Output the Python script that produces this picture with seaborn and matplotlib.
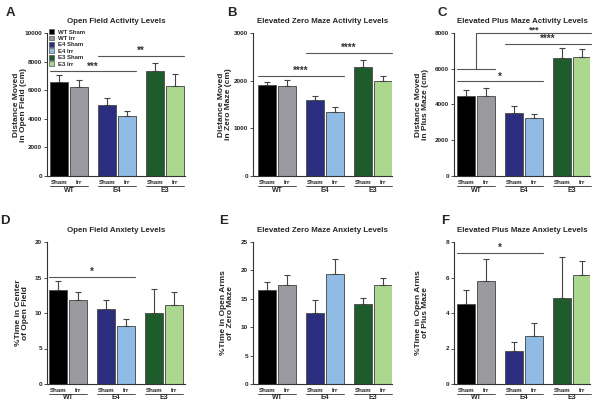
import matplotlib
matplotlib.use("Agg")
import matplotlib.pyplot as plt
from matplotlib.patches import Patch
import numpy as np
import pandas as pd
import seaborn as sns

# Groups and colours
groups = ["WT Sham", "WT Irr", "E4 Sham", "E4 Irr", "E3 Sham", "E3 Irr"]
conds = ["Sham", "Irr", "Sham", "Irr", "Sham", "Irr"]
genos = ["WT", "E4", "E3"]
colors = ["#000000", "#9b9b9f", "#2b2e7e", "#8fbbe5", "#1e5c2c", "#abd78f"]

# Means and SEM
of_activity = [6540, 6240, 4950, 4200, 7360, 6310]
of_activity_err = [540, 490, 520, 380, 540, 840]
zm_activity = [1906, 1885, 1600, 1340, 2280, 2000]
zm_activity_err = [70, 125, 70, 100, 160, 100]
pm_activity = [4450, 4470, 3530, 3230, 6600, 6650]
pm_activity_err = [340, 460, 360, 250, 560, 450]
of_anxiety = [13.2, 11.9, 10.5, 8.2, 10.0, 11.15]
of_anxiety_err = [1.27, 1.0, 1.4, 0.9, 3.35, 1.8]
zm_anxiety = [16.5, 17.5, 12.47, 19.44, 14.17, 17.5]
zm_anxiety_err = [1.47, 1.7, 2.28, 2.56, 1.03, 1.2]
pm_anxiety = [4.53, 5.79, 1.85, 2.73, 4.85, 6.16]
pm_anxiety_err = [0.79, 1.27, 0.51, 0.72, 2.3, 0.75]

# significance bars: (from, to, height, stars)
of_activity_sig = [(-0.45, 3.85, 7310, "***"), (1.95, 6.25, 8410, "**")]
zm_activity_sig = [(-0.45, 3.85, 2100, "****"), (1.95, 6.25, 2580, "****")]
pm_activity_sig = [(-0.45, 3.85, 5290, "*"), (1.95, 6.25, 7380, "****")]
of_anxiety_sig = [(-0.45, 3.85, 15.08, "*")]
pm_anxiety_sig = [(-0.45, 3.85, 7.4, "*")]

pos = [0, 1, 2.4, 3.4, 4.8, 5.8]

sns.set_style("white")
plt.rcParams["font.family"] = ["Liberation Sans", "DejaVu Sans"]
plt.rcParams["font.weight"] = "bold"

fig = plt.figure(figsize=(6.02, 4.09), dpi=100)
W, H = 602, 409

panels = [
    # letter, title, ylabel, values, err, sig, yticks, axis px (left, right, top, bottom), first bar px, label x px, letter px
    ("A", "Open Field Activity Levels", "Distance Moved\nin Open Field (cm)", of_activity, of_activity_err,
     of_activity_sig, [0, 2000, 4000, 6000, 8000, 10000], (47, 185, 33, 176), 50, 20, (10, 13)),
    ("B", "Elevated Zero Maze Activity Levels", "Distance Moved\nin Zero Maze (cm)", zm_activity, zm_activity_err,
     zm_activity_sig, [0, 1000, 2000, 3000], (253, 392, 33, 176), 258, 225, (232, 13)),
    ("C", "Elevated Plus Maze Activity Levels", "Distance Moved\nin Plus Maze (cm)", pm_activity, pm_activity_err,
     pm_activity_sig, [0, 2000, 4000, 6000, 8000], (454, 590, 33, 176), 457, 422, (442, 13)),
    ("D", "Open Field Anxiety Levels", "%Time in Center\nof Open Field", of_anxiety, of_anxiety_err,
     of_anxiety_sig, [0, 5, 10, 15, 20], (47, 185, 242, 384), 49, 22, (5, 221)),
    ("E", "Elevated Zero Maze Anxiety Levels", "%Time in Open Arms\nof  Zero Maze", zm_anxiety, zm_anxiety_err,
     [], [0, 5, 10, 15, 20, 25], (253, 392, 242, 384), 258, 227, (224, 221)),
    ("F", "Elevated Plus Maze Anxiety Levels", "%Time in Open Arms\nof Plus Maze", pm_anxiety, pm_anxiety_err,
     pm_anxiety_sig, [0, 2, 4, 6, 8], (454, 590, 242, 384), 457, 422, (445, 221)),
]

for letter, title, ylabel, vals, errs, sigs, yticks, (l, r, t, b), bar0, labx, (lx, ly) in panels:
    ax = fig.add_axes([l / W, 1 - b / H, (r - l) / W, (b - t) / H])
    df = pd.DataFrame({"pos": pos, "val": vals, "group": groups})
    sns.barplot(data=df, x="pos", y="val", hue="group", palette=colors, hue_order=groups,
                native_scale=True, dodge=False, width=0.9, legend=False, saturation=1,
                edgecolor="#555555", linewidth=0.7, ax=ax)
    ax.errorbar(pos, vals, yerr=[np.zeros(6), errs], fmt="none", ecolor="#444444",
                elinewidth=0.8, capsize=2.5, capthick=0.8, zorder=1)

    x0 = -0.45 - (bar0 - l) / 20
    ax.set_xlim(x0, x0 + (r - l) / 20)
    ax.set_ylim(0, yticks[-1])
    ax.set_yticks(yticks)
    ax.set_yticklabels([str(v) for v in yticks], fontsize=4.6, fontweight="bold")
    ax.set_xticks([])
    ax.set_xlabel("")
    ax.set_ylabel(ylabel, fontsize=6, fontweight="bold", va="center", linespacing=1.1)
    ax.yaxis.set_label_coords((labx - l) / (r - l), 0.5)
    ax.tick_params(axis="y", length=2.5, width=0.6, pad=1, left=True, color="#333333")
    for s in ["top", "right"]:
        ax.spines[s].set_visible(False)
    for s in ["left", "bottom"]:
        ax.spines[s].set_color("#333333")
        ax.spines[s].set_linewidth(0.8)
    ax.set_title(title, fontsize=5.7, fontweight="bold", pad=7.5)
    fig.text(lx / W, 1 - ly / H, letter, fontsize=9.5, fontweight="bold", ha="center", va="center")

    # condition / genotype labels under the bars
    trans = ax.get_xaxis_transform()
    for p, c in zip(pos, conds):
        ax.text(p, -0.048, c, transform=trans, ha="center", va="center", fontsize=4.4, fontweight="bold")
    for i, g in enumerate(genos):
        p = pos[2 * i]
        ax.plot([p - 0.45, p + 1.45], [-0.068, -0.068], transform=trans, color="#333333", lw=0.6, clip_on=False)
        ax.text(p + 0.5, -0.098, g, transform=trans, ha="center", va="center", fontsize=5, fontweight="bold")

    # significance lines
    for a, z, y, stars in sigs:
        ax.plot([a, z], [y, y], color="#555555", lw=0.8, clip_on=False)
        ax.text((a + z) / 2, y, stars, ha="center", va="bottom", fontsize=7, fontweight="bold",
                color="#333333", clip_on=False)

    if letter == "C":
        ax.plot([-0.45, 1.45], [5980, 5980], color="#555555", lw=0.8, clip_on=False)
        ax.plot([0.5, 0.5, 6.25], [5980, 8000, 8000], color="#555555", lw=0.8, clip_on=False)
        ax.text(3.4, 7900, "***", ha="center", va="bottom", fontsize=6.5, fontweight="bold", color="#333333")

    if letter == "A":
        handles = [Patch(facecolor=c, edgecolor="#555555", linewidth=0.5) for c in colors]
        ax.legend(handles, groups, loc="upper left", bbox_to_anchor=(0.0, 1.04), frameon=False,
                  fontsize=4.3, handlelength=0.9, handleheight=0.9, handletextpad=0.6,
                  labelspacing=0.15, borderpad=0.1, borderaxespad=0.2)

fig.savefig("out.png", dpi=100)
